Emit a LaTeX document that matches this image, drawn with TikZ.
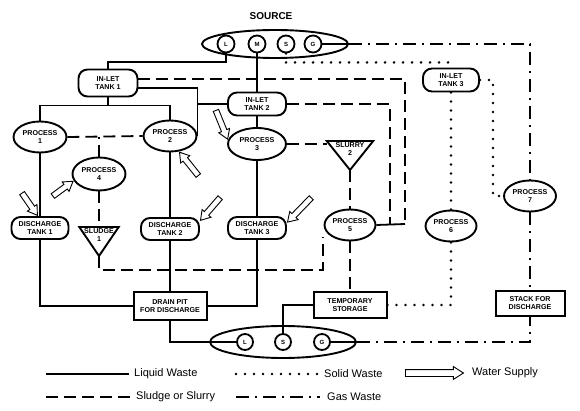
\documentclass[tikz,border=0pt]{standalone}
\usepackage{fontspec}
\setmainfont{Liberation Sans}
\usetikzlibrary{shapes.geometric,shapes.arrows,positioning,calc}
\newcommand{\tagfont}{\fontsize{7.1}{7.6}\selectfont\bfseries}

\begin{document}
\begin{tikzpicture}[x=1pt, y=-1pt,
        tankbox/.style={rectangle, draw=black, line width=1.9pt, rounded corners=9pt, minimum width=58pt, minimum height=23pt, inner sep=1pt, font=\tagfont, align=center, fill=white},
        procnode/.style={ellipse, draw=black, line width=1.9pt, minimum width=53pt, minimum height=31pt, inner sep=0pt, font=\tagfont, align=center, fill=white},
        sitebox/.style={rectangle, draw=black, line width=2pt, minimum width=73pt, minimum height=26pt, inner sep=1pt, font=\tagfont, align=center, fill=white},
        outlet/.style={ellipse, draw=black, line width=1.9pt, minimum width=146pt, minimum height=28pt, inner sep=0pt},
        valve/.style={circle, draw=black, line width=1.8pt, minimum size=17pt, inner sep=0pt, font=\fontsize{6}{6}\selectfont\bfseries, fill=white},
        hopper/.style={anchor=north, minimum width=46pt, inner sep=1.5pt, font=\tagfont, align=center},
        hopperline/.style={line width=1.9pt, line join=miter},
        liquid/.style={line width=1.8pt},
        sludgeline/.style={line width=1.8pt, dash pattern=on 12pt off 6pt},
        solidline/.style={line width=2.8pt, line cap=round, dash pattern=on 0pt off 9pt},
        gasline/.style={line width=1.8pt, dash pattern=on 13pt off 6pt on 2pt off 6pt},
        water/.style={single arrow, draw=black, line width=0.9pt, fill=white, inner sep=0pt, inner ysep=2.4pt, single arrow head extend=3pt, single arrow tip angle=65, minimum height=28pt},
        waterpath/.style={water, sloped, allow upside down, pos=1, anchor=tip},
        legendtext/.style={font=\fontsize{11}{13}\selectfont, anchor=west, inner sep=0pt},
      ]
      \useasboundingbox (0,0) rectangle (580,411);
      % source
      \node [outlet] (source) at (275,44) {};
      \node [valve] (tL) at (226,44) {L};
      \node [valve] (tM) at (257,44) {M};
      \node [valve] (tS) at (286,44) {S};
      \node [valve] (tG) at (313,44) {G};
      \node [font=\fontsize{10}{12}\selectfont\bfseries] (srctitle) at (271,16) {SOURCE};
      % in-let tanks
      \node [tankbox, minimum width=59pt, minimum height=27pt] (tank1) at (108,83) {IN-LET\\TANK 1};
      \node [tankbox] (tank2) at (257,104) {IN-LET\\TANK 2};
      \node [tankbox, minimum width=56pt] (tank3) at (451,80) {IN-LET\\TANK 3};
      % processes
      \node [procnode] (proc1) at (40,137) {PROCESS\\1};
      \node [procnode] (proc2) at (170,136) {PROCESS\\2};
      \node [procnode, minimum width=58pt, minimum height=32pt] (proc3) at (257,144) {PROCESS\\3};
      \node [procnode, minimum height=33pt] (proc4) at (99,174) {PROCESS\\4};
      \node [procnode, minimum width=51pt] (proc5) at (350,225) {PROCESS\\5};
      \node [procnode, minimum width=51pt] (proc6) at (451,226) {PROCESS\\6};
      \node [procnode, minimum width=52pt] (proc7) at (530,196) {PROCESS\\7};
      % discharge tanks
      \node [tankbox, minimum width=57pt, minimum height=22pt] (dis1) at (40,228) {DISCHARGE\\TANK 1};
      \node [tankbox, minimum height=22pt] (dis2) at (170,229) {DISCHARGE\\TANK 2};
      \node [tankbox, minimum height=22pt] (dis3) at (257,228) {DISCHARGE\\TANK 3};
      % hoppers
      \node [hopper, minimum width=39pt] (sludge1) at (99,227) {SLUDGE\\1};
      \coordinate (sludge1tip) at ([yshift=-29pt]sludge1.north);
      \draw [hopperline] (sludge1.north west) -- (sludge1.north east) -- (sludge1tip) -- cycle;
      \node [hopper] (slurry2) at (350,141) {SLURRY\\2};
      \coordinate (slurry2tip) at ([yshift=-29pt]slurry2.north);
      \draw [hopperline] (slurry2.north west) -- (slurry2.north east) -- (slurry2tip) -- cycle;
      % sites
      \node [sitebox, minimum height=28pt] (drain) at (170,306) {DRAIN PIT\\FOR DISCHARGE};
      \node [sitebox] (temp) at (350,305) {TEMPORARY\\STORAGE};
      \node [sitebox, minimum width=69pt, minimum height=25pt] (stack) at (530,303) {STACK FOR\\DISCHARGE};
      % outfall
      \node [outlet, minimum height=32pt] (outfall) at (283,342) {};
      \node [valve, minimum size=16pt] (bL) at (245,342) {L};
      \node [valve, minimum size=16pt] (bS) at (283,342) {S};
      \node [valve, minimum size=16pt] (bG) at (322,342) {G};
      % corner points
      \coordinate (k1) at (405,224);
      \coordinate (k2) at (390,224);
      \coordinate (c5) at (323,270);
      \coordinate (c7) at (493,196);
      % liquid waste
      \draw [liquid] (tL.south) -- ++(0,9) -| (tank1.north);
      \draw [liquid] (tM.south) -- (tank2.north);
      \draw [liquid] (tank2.south) -- (proc3.north);
      \draw [liquid] (tank1.south) -- ++(0,8) coordinate (j1);
      \draw [liquid] (proc1.north) |- (j1) -| (proc2.north);
      \draw [liquid] (tank1.-10) -| (proc2.east);
      \draw [liquid] (tank2.west) -- (tank2.west -| proc2.east);
      \draw [liquid] (proc1.south) -- (dis1.north);
      \draw [liquid] (proc2.south) -- (dis2.north);
      \draw [liquid] (proc3.south) -- (dis3.north);
      \draw [liquid] (dis1.south) |- (drain.west);
      \draw [liquid] (dis2.south) -- (drain.north);
      \draw [liquid] (dis3.south) |- (drain.east);
      \draw [liquid] (drain.south) |- (bL.west);
      \draw [liquid] (bS.north) |- (temp.west);
      \draw [liquid] (proc5.east) -- (k1);
      \draw [liquid] (tG.east) -- (source.east);
      \draw [liquid] (bG.east) -- (outfall.east);
      % sludge or slurry
      \draw [sludgeline] (tank1.8) -| (k1);
      \draw [sludgeline] (tank2.east) -| (k2);
      \draw [sludgeline] (proc1.east) -- (proc2.west);
      \draw [sludgeline] (proc4.north) -- (proc4.north |- proc1.east);
      \draw [sludgeline] (proc4.south) -- (sludge1.north);
      \draw [sludgeline] (sludge1tip) |- (c5) -- (c5 |- proc5.south west);
      \draw [sludgeline] (proc3.east) -- (proc3.east -| slurry2.north west);
      \draw [sludgeline] (slurry2tip) -- (proc5.north);
      \draw [sludgeline] (proc5.south) -- (temp.north);
      % solid waste
      \draw [solidline] (tS.south) -- ++(0,9) -| (tank3.north);
      \draw [solidline] (tank3.south) -- (proc6.north);
      \draw [solidline] (tank3.east) -| (c7) -- (proc7.west);
      \draw [solidline] (proc6.south) |- (temp.east);
      % gas waste
      \draw [gasline] (source.east) -| (proc7.north);
      \draw [gasline] (proc7.south) -- (stack.north);
      \draw [gasline] (outfall.east) -| (stack.south);
      % water supply
      \coordinate (w1) at (22,193);
      \coordinate (w2) at (57,193);
      \coordinate (w3) at (197,174);
      \coordinate (w4) at (217,113);
      \coordinate (w5) at (219,199);
      \coordinate (w6) at (310,199);
      \path (w1) -- node [waterpath, minimum height=27pt] (wa1) {} (dis1.100);
      \path (w2) -- node [waterpath, minimum height=25pt] (wa2) {} (proc4.195);
      \path (w3) -- node [waterpath, minimum height=30pt] (wa3) {} (proc2.-60);
      \path (w4) -- node [waterpath, minimum height=31pt] (wa4) {} (proc3.172);
      \path (w5) -- node [waterpath, minimum height=30pt] (wa5) {} (dis2.15);
      \path (w6) -- node [waterpath, minimum height=34pt] (wa6) {} (dis3.10);
      % legend
      \coordinate (lq1) at (46,374);
      \coordinate (lq2) at (129,374);
      \draw [liquid] (lq1) -- (lq2);
      \node [legendtext] (lqtext) at (134,374) {Liquid Waste};
      \coordinate (sw1) at (236,374);
      \coordinate (sw2) at (318,374);
      \draw [solidline] (sw1) -- (sw2);
      \node [legendtext] (swtext) at (324,374) {Solid Waste};
      \node [water, minimum height=58pt, inner ysep=3pt, single arrow head extend=3pt, anchor=west] (wlegend) at (405,373) {};
      \node [legendtext] (wtext) at (472,373) {Water Supply};
      \coordinate (sl1) at (46,397);
      \coordinate (sl2) at (130,397);
      \draw [sludgeline] (sl1) -- (sl2);
      \node [legendtext] (sltext) at (136,397) {Sludge or Slurry};
      \coordinate (gw1) at (236,397);
      \coordinate (gw2) at (320,397);
      \draw [gasline] (gw1) -- (gw2);
      \node [legendtext] (gwtext) at (327,397) {Gas Waste};
    \end{tikzpicture}
\end{document}
